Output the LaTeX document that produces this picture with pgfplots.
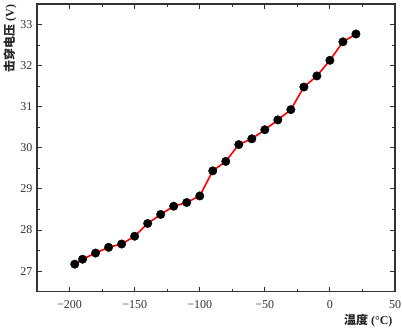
\documentclass[border=0pt]{standalone}
\usepackage{pgfplots}
\pgfplotsset{compat=1.18}
\usepackage{fontspec}
\setmainfont{Liberation Serif}
\newfontfamily\cjk{Noto Sans CJK SC}
\begin{document}
\begin{tikzpicture}
\path[use as bounding box] (-37pt,-37.3pt) rectangle (365pt,291.7pt);
\begin{axis}[
  at={(0,0)}, anchor=south west,
  scale only axis, width=358pt, height=287.7pt,
  xmin=-225, xmax=50, ymin=26.5, ymax=33.5,
  xtick={-200,-150,-100,-50,0,50},
  xticklabels={−200,−150,−100,−50,0,50},
  ytick={27,28,29,30,31,32,33},
  yticklabels={27,28,29,30,31,32,33},
  minor x tick num=1, minor y tick num=1,
  tick align=inside,
  major tick length=5pt, minor tick length=3pt,
  axis line style={line width=1.1pt, black!80},
  every tick/.style={line width=0.9pt, black!80},
  tick label style={font=\fontsize{12}{14}\selectfont, black!80},
  xticklabel style={yshift=-5pt},
  yticklabel style={xshift=-1pt},
  clip=false,
]
\addplot[red, line width=1.6pt, mark=*, mark size=4.3pt,
  mark options={fill=black, draw=black, solid, line width=0.3pt}]
coordinates {
(-196,27.17) (-190,27.29) (-180,27.44) (-170,27.58) (-160,27.66)
(-150,27.85) (-140,28.16) (-130,28.38) (-120,28.58) (-110,28.67)
(-100,28.83) (-90,29.44) (-80,29.67) (-70,30.08) (-60,30.22)
(-50,30.44) (-40,30.68) (-30,30.93) (-20,31.48) (-10,31.75)
(0,32.13) (10,32.58) (20,32.77)
};
\node[anchor=east, font=\fontsize{12}{14}\selectfont\bfseries, black!85] at ([shift={(1pt,-28.5pt)}]rel axis cs:1,0) {{\cjk 温度} (°C)};
\node[rotate=90, anchor=east, font=\fontsize{12}{14}\selectfont\bfseries, black!85] at ([shift={(-27pt,3pt)}]rel axis cs:0,1) {{\cjk 击穿电压} (V)};
\end{axis}
\end{tikzpicture}
\end{document}
